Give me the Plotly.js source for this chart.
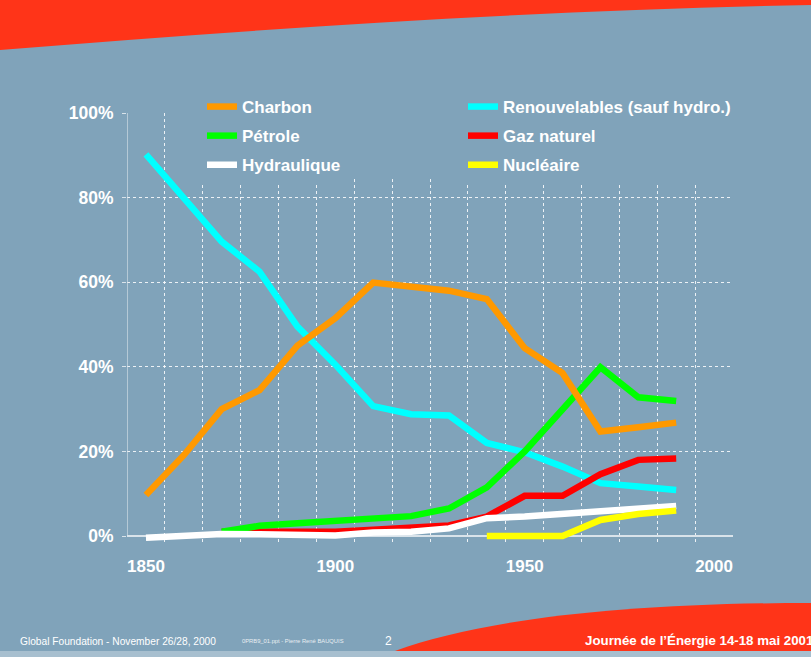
<!DOCTYPE html>
<html><head><meta charset="utf-8">
<script src="https://cdn.plot.ly/plotly-3.0.1.min.js"></script>
<style>html,body{margin:0;padding:0;background:#80a2b9;overflow:hidden}</style>
</head><body><div id="chart" style="width:811px;height:657px"></div>
<script>
// ---- data (share of world primary energy, %) ----
const years = [1850,1860,1870,1880,1890,1900,1910,1920,1930,1940,1950,1960,1970,1980,1990];
const charbon = [9.7,19.1,30,34.5,45,51.5,59.9,58.8,58,56,44.4,38.5,24.7,25.7,26.8];
const renouvelables = [90.2,80,69.6,62.5,49.5,40.5,30.7,28.8,28.5,22,19.8,16.4,12.5,11.7,10.9];
const petrole = [null,null,1,2.4,3,3.6,4.2,4.7,6.5,11.5,20,29.8,39.9,32.8,31.9];
const gazNaturel = [null,null,1,1,1,1,1.5,2,2.5,4.6,9.5,9.5,14.6,18,18.3];
const hydraulique = [-0.4,0.2,0.5,0.4,0.1,0.1,0.8,1,1.8,4.2,4.6,5.2,5.7,6.5,7.1];
const nucleaire = [null,null,null,null,null,null,null,null,null,0,0,0,3.8,5.2,6];
const xTickVals = [1850,1900,1950,2000];
const yTickVals = [0,20,40,60,80,100];

const W = 811, H = 657;
const BG = '#80a3ba';
const RED = '#ff3418';
const FONT = '"Liberation Sans", Arial, sans-serif';
const px = x => x / W;
const py = y => 1 - y / H;

function line(name, y, color, rank, legendId) {
  return {type:'scatter', mode:'lines', name:name, x:years, y:y,
    line:{color:color, width:6.5, shape:'linear'}, legendrank:rank, legend:legendId,
    legendgroup:name, connectgaps:false, hoverinfo:'skip'};
}

const data = [
  line('Renouvelables (sauf hydro.)', renouvelables, '#00ffff', 1, 'legend2'),
  line('Gaz naturel', gazNaturel, '#ff0000', 2, 'legend2'),
  line('Pétrole', petrole, '#00ff00', 2, 'legend'),
  line('Charbon', charbon, '#ff9900', 1, 'legend'),
  line('Hydraulique', hydraulique, '#ffffff', 3, 'legend'),
  line('Nucléaire', nucleaire, '#ffff00', 3, 'legend2')
];

const legendFont = {family: FONT, size: 17, color: '#ffffff', weight: 'bold'};

const layout = {
  width: W, height: H,
  margin: {l:0, r:0, t:0, b:0, pad:0},
  paper_bgcolor: BG, plot_bgcolor: BG,
  showlegend: true,
  xaxis: {
    domain: [px(127), px(733)],
    range: [1845, 2005],
    tickvals: xTickVals, ticktext: xTickVals.map(String),
    showgrid: false, zeroline: false, showline: false,
    ticks: '', ticklabelstandoff: 11,
    tickfont: {family: FONT, size: 17, color: '#ffffff', weight: 'bold'},
    minor: {tick0: 1845, dtick: 10, showgrid: true, gridcolor: 'rgba(255,255,255,0.85)', griddash: 'dot', gridwidth: 1, ticks: ''}
  },
  yaxis: {
    domain: [py(536 + 1.6*4.23), py(113)],
    range: [-1.6, 100],
    tickvals: yTickVals, ticktext: yTickVals.map(v => v + '%'),
    showgrid: true, gridcolor: 'rgba(255,255,255,0.85)', griddash: 'dot', gridwidth: 1,
    zeroline: true, zerolinecolor: '#d9e3ea', zerolinewidth: 1.2,
    showline: false,
    ticks: 'outside', ticklen: 4, tickcolor: '#d9e3ea', ticklabelstandoff: 5,
    tickfont: {family: FONT, size: 17.5, color: '#ffffff', weight: 'bold'}
  },
  legend: {
    orientation: 'v', x: px(202), xanchor: 'left', y: py(89), yanchor: 'top',
    bgcolor: BG, borderwidth: 0, font: legendFont, tracegroupgap: 4,
    traceorder: 'grouped', itemclick: false
  },
  legend2: {
    orientation: 'v', x: px(463), xanchor: 'left', y: py(89), yanchor: 'top',
    bgcolor: BG, borderwidth: 0, font: legendFont, tracegroupgap: 4,
    traceorder: 'grouped', itemclick: false
  },
  shapes: [
    // top red swoosh
    {type:'path', xref:'paper', yref:'paper', layer:'below', line:{width:0}, fillcolor: RED,
     path: `M 0,1 L 1,1 L 1,${py(5)} C ${px(540)},${py(10)} ${px(270)},${py(28)} 0,${py(50)} Z`},
    // bottom red swoosh
    {type:'path', xref:'paper', yref:'paper', layer:'below', line:{width:0}, fillcolor: RED,
     path: `M ${px(395)},${py(651)} C ${px(480)},${py(620)} ${px(620)},${py(603)} 1,${py(603)} L 1,${py(651)} Z`},
    // bottom light strip
    {type:'rect', xref:'paper', yref:'paper', layer:'below', line:{width:0}, fillcolor:'#a7bfcf',
     x0:0, x1:1, y0:0, y1:py(651)},
    // legend box background (hides gridlines behind legend)
    {type:'rect', xref:'paper', yref:'paper', layer:'above', line:{width:0}, fillcolor: BG,
     x0:px(205), x1:px(730), y0:py(178), y1:py(95)},
    // left axis line
    {type:'line', xref:'x', yref:'y', x0:1845, x1:1845, y0:0, y1:100, line:{color:'#d9e3ea', width:1.2}}
  ],
  annotations: [
    {xref:'paper', yref:'paper', x:px(18), y:py(641), xanchor:'left', yanchor:'middle', showarrow:false,
     text:'Global Foundation - November 26/28, 2000', font:{family:FONT, size:10.2, color:'#ffffff'}},
    {xref:'paper', yref:'paper', x:px(240), y:py(641), xanchor:'left', yanchor:'middle', showarrow:false,
     text:'0PRB9_01.ppt - Pierre René BAUQUIS', font:{family:FONT, size:5.8, color:'#e8eef2'}},
    {xref:'paper', yref:'paper', x:px(388), y:py(641), xanchor:'center', yanchor:'middle', showarrow:false,
     text:'2', font:{family:FONT, size:12, color:'#ffffff'}},
    {xref:'paper', yref:'paper', x:px(583), y:py(640), xanchor:'left', yanchor:'middle', showarrow:false,
     text:'Journée de l’Énergie 14-18 mai 2001', font:{family:FONT, size:13.3, color:'#ffffff', weight:'bold'}}
  ]
};

Plotly.newPlot('chart', data, layout, {staticPlot:true, displayModeBar:false});
</script>
</body></html>
